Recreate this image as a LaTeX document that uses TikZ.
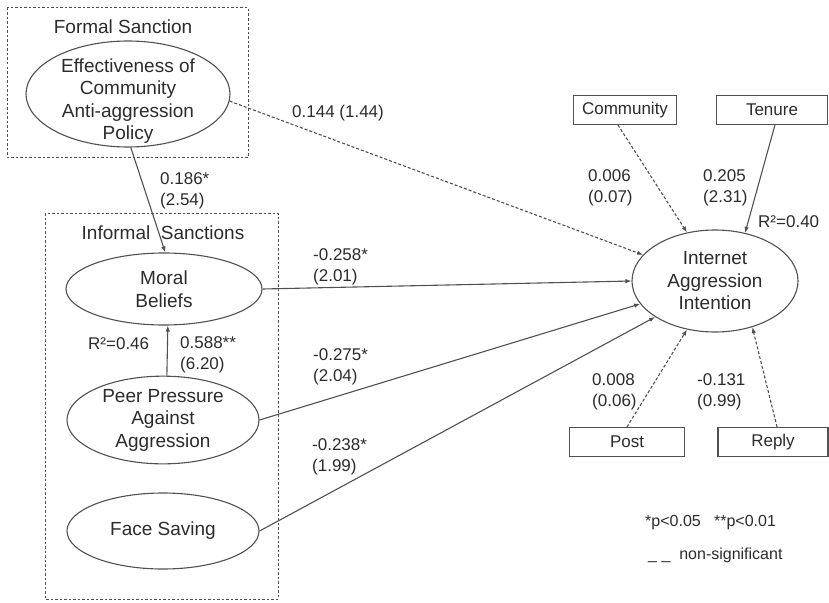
\documentclass[tikz,border=0pt]{standalone}
\usepackage{fontspec}
\setmainfont{Liberation Sans}
\usetikzlibrary{arrows.meta,shapes.geometric}
\definecolor{ink}{HTML}{2B2B2B}
\definecolor{ln}{HTML}{505050}
\tikzset{
  lat/.style={ellipse, draw=ln, line width=1.1pt, text=ink, align=center,
    font=\fontsize{19}{22.5}\selectfont, inner sep=0pt},
  lattext/.style={text=ink, align=center, font=\fontsize{19}{22.5}\selectfont, inner sep=0pt},
  ctl/.style={rectangle, draw=ln, line width=1.1pt, text=ink, align=center,
    font=\fontsize{17}{20}\selectfont, inner sep=0pt, minimum height=29pt},
  grp/.style={draw=ln, line width=1pt, dash pattern=on 2.5pt off 2pt},
  ttl/.style={text=ink, font=\fontsize{19}{22}\selectfont, inner sep=0pt},
  lbl/.style={text=ink, align=left, anchor=west, inner sep=0pt,
    font=\fontsize{17}{20.5}\selectfont},
  sig/.style={draw=ln, line width=1.1pt, -{Latex[length=6pt,width=4.5pt]}},
  nsig/.style={sig, dash pattern=on 3pt off 2pt},
}
\begin{document}
\begin{tikzpicture}[x=1pt,y=-1pt]
\useasboundingbox (0,0) rectangle (829,602);
% groups
\draw[grp] (7,8) rectangle (248,157);
\draw[grp] (45,213) rectangle (278,599);
\node[ttl] (tformal) at (123,27) {Formal Sanction};
\node[ttl] (tinformal) at (163,233) {Informal~ Sanctions};
% latent constructs
\node[lat, minimum width=204pt, minimum height=106pt] (eff) at (128,94) {};
\node[lattext] (efftext) at (128,101)
  {Effectiveness of\\Community\\Anti-aggression\\Policy};
\node[lat, minimum width=196pt, minimum height=72pt] (moral) at (164,289) {Moral\\Beliefs};
\node[lat, minimum width=192pt, minimum height=86pt] (peer) at (163,420) {Peer Pressure\\Against\\Aggression};
\node[lat, minimum width=192pt, minimum height=76pt] (face) at (163,531) {Face Saving};
\node[lat, minimum width=166pt, minimum height=102pt] (iai) at (715,281) {Internet\\Aggression\\Intention};
% controls
\node[ctl, minimum width=103pt] (comm) at (625,110) {Community};
\node[ctl, minimum width=111pt] (ten) at (772,110) {Tenure};
\node[ctl, minimum width=115pt] (post) at (627,442) {Post};
\node[ctl, minimum width=110pt] (reply) at (773,442) {Reply};
% paths
\draw[sig] (eff.-87) -- (moral.88);
\draw[sig] (peer.85) -- (moral.-84);
\draw[nsig] (eff.-4) -- (iai.160);
\draw[sig] (moral.east) -- (iai.180);
\draw[sig] (peer.east) -- (iai.197);
\draw[sig] (face.east) -- (iai.211);
\draw[nsig] (comm.-115) -- (iai.120);
\draw[sig] (ten.-79) -- (iai.58);
\draw[nsig] (post.north) -- (iai.240);
\draw[nsig] (reply.75) -- (iai.309);
% labels
\node[lbl] (l1) at (160,191) {0.186*\\(2.54)};
\node[lbl] (l2) at (292,113) {0.144 (1.44)};
\node[lbl] (l3) at (313,267) {-0.258*\\(2.01)};
\node[lbl] (l4) at (313,367) {-0.275*\\(2.04)};
\node[lbl] (l5) at (312,457) {-0.238*\\(1.99)};
\node[lbl] (l6) at (180,355) {0.588**\\(6.20)};
\node[lbl] (r1) at (88,344) {R²=0.46};
\node[lbl] (l7) at (588,188) {0.006\\(0.07)};
\node[lbl] (l8) at (703,188) {0.205\\(2.31)};
\node[lbl] (r2) at (758,222) {R²=0.40};
\node[lbl] (l9) at (592,392) {0.008\\(0.06)};
\node[lbl] (l10) at (697,392) {-0.131\\(0.99)};
% legend
\node[lbl, font=\fontsize{16}{19}\selectfont] (leg1) at (645,523) {*p<0.05\ \ \ **p<0.01};
\node[lbl, font=\fontsize{16}{19}\selectfont] (leg2) at (648,555) {\_ \_\ \ non-significant};
\end{tikzpicture}
\end{document}
